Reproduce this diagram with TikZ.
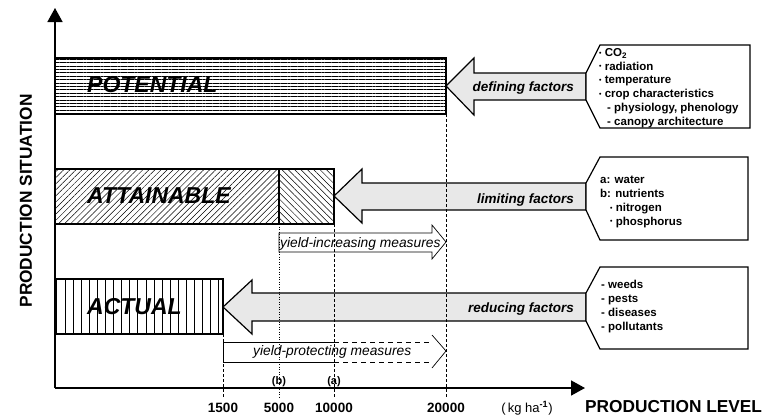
\documentclass[tikz,border=0pt]{standalone}
\usepackage{fontspec}
\setmainfont{Liberation Sans}
\usetikzlibrary{calc, patterns.meta, arrows.meta}

\newcommand{\bul}{\raisebox{0.2ex}{\scalebox{0.6}{\textbullet}}\ }

\tikzset{
	bar/.style = {draw, line width=1.2pt},
	factor/.style = {draw, line width=1.2pt, fill=gray!18},
	listbox/.style = {draw, line width=1.2pt, fill=white},
	measure/.style = {line width=0.7pt},
	level/.style = {line width=0.8pt, dash pattern=on 3pt off 2pt},
	biglabel/.style = {anchor=base west, inner sep=0, font=\fontsize{23}{23}\selectfont\bfseries\itshape},
	factortext/.style = {anchor=base east, inner sep=0, font=\fontsize{13.5}{13.5}\selectfont\bfseries\itshape},
	measuretext/.style = {anchor=base west, inner sep=0, font=\fontsize{13.8}{13.8}\selectfont\itshape},
	listtext/.style = {anchor=base west, inner sep=0, align=left, font=\fontsize{11.5}{13.7}\selectfont\bfseries},
	ticklabel/.style = {anchor=base, inner sep=0, font=\fontsize{13.5}{13.5}\selectfont\bfseries},
	axislabel/.style = {inner sep=0, font=\fontsize{17.3}{17.3}\selectfont\bfseries}
}

\begin{document}
\begin{tikzpicture}[x=1pt, y=-1pt]
	\useasboundingbox (0,0) rectangle (777,416);

	% production levels on the axis
	\coordinate (l1500) at (223,388);
	\coordinate (l5000) at (279,388);
	\coordinate (l10000) at (334,388);
	\coordinate (l20000) at (446,388);

	% bars
	\draw[bar, pattern={Lines[angle=0, distance=3.4pt, line width=0.5pt]}] (55,58) rectangle (l20000 |- 0,114);
	\draw[bar, pattern={Lines[angle=45, distance=4.3pt, line width=0.5pt]}] (55,169) rectangle (l5000 |- 0,224);
	\draw[bar, pattern={Lines[angle=-45, distance=4.5pt, line width=0.5pt]}] (l5000 |- 0,169) rectangle (l10000 |- 0,224);
	\draw[bar, pattern={Lines[angle=90, distance=8.1pt, line width=0.6pt]}] (55,279) rectangle (l1500 |- 0,334);

	% factor arrows
	\draw[factor] (446,86) -- (474,58) -- (474,73) -- (586,73) -- (586,100) -- (474,100) -- (474,115) -- cycle;
	\draw[factor] (334,196) -- (362,169) -- (362,183) -- (586,183) -- (586,210) -- (362,210) -- (362,223) -- cycle;
	\draw[factor] (223,307) -- (252,280) -- (252,293) -- (586,293) -- (586,321) -- (252,321) -- (252,334) -- cycle;

	% factor lists
	\draw[listbox] (600,45) -- (750,45) -- (750,128) -- (600,128) -- (586,100) -- (586,73) -- cycle;
	\draw[listbox] (600,157) -- (748,157) -- (748,240) -- (600,240) -- (586,210) -- (586,183) -- cycle;
	\draw[listbox] (600,267) -- (748,267) -- (748,349) -- (600,349) -- (586,321) -- (586,293) -- cycle;

	% measures
	\draw[measure] (279,233) -- (432,233) -- (432,225) -- (446,242) -- (432,259) -- (432,252) -- (279,252) -- cycle;
	\draw[measure] (334,342) -- (223,342) -- (223,362) -- (334,362);
	\draw[measure, dash pattern=on 5pt off 4pt] (334,342) -- (430,342) (334,362) -- (430,362);
	\draw[measure] (432,335) -- (446,351) -- (432,368);

	% level lines
	\draw[level] (l1500 |- 0,334) -- ($(l1500)+(0,10)$);
	\draw[line width=0.8pt, dash pattern=on 1pt off 1.5pt] (l5000 |- 0,224) -- ($(l5000)+(0,10)$);
	\draw[level] (l10000 |- 0,224) -- ($(l10000)+(0,10)$);
	\draw[level] (l20000 |- 0,114) -- ($(l20000)+(0,10)$);

	\begin{scope}[line width=1.6pt, -{Triangle[length=14pt, width=15pt]}]
	\draw (55,388) -- (55,8);
	\draw (55,388) -- (585,388);
	\end{scope}

	% labels
	\node[biglabel] (potential) at (87,92) {POTENTIAL};
	\node[biglabel] (attainable) at (87,203) {ATTAINABLE};
	\node[biglabel] (actual) at (87,314) {ACTUAL};

	\node[factortext] (defining) at (574,91.5) {defining factors};
	\node[factortext] (limiting) at (574,203) {limiting factors};
	\node[factortext] (reducing) at (574,312) {reducing factors};

	% lists: base is the last line
	\node[listtext] (deflist) at (599,125) {\bul CO\textsubscript{2}\\ \bul radiation\\ \bul temperature\\ \bul crop characteristics\\ \hspace{8pt}- physiology, phenology\\ \hspace{8pt}- canopy architecture};
	\node[listtext] (limlist) at (600,225) {a: water\\ b: nutrients\\ \hspace{10pt}\bul nitrogen\\ \hspace{10pt}\bul phosphorus};
	\node[listtext] (redlist) at (601,330) {- weeds\\ - pests\\ - diseases\\ - pollutants};

	\node[measuretext] (increasing) at (280,247) {yield-increasing measures};
	\node[measuretext] (protecting) at (253,355) {yield-protecting measures};

	\node[ticklabel, font=\fontsize{11}{11}\selectfont\bfseries] (b) at (279,384) {(b)};
	\node[ticklabel, font=\fontsize{11}{11}\selectfont\bfseries] (a) at (334,384) {(a)};
	\node[ticklabel] at (l1500 |- 0,412) {1500};
	\node[ticklabel] at (l5000 |- 0,412) {5000};
	\node[ticklabel] at (l10000 |- 0,412) {10000};
	\node[ticklabel] at (l20000 |- 0,412) {20000};
	\node[ticklabel, font=\fontsize{13}{13}\selectfont] (unit) at (527,412) {(\,kg ha\textsuperscript{\textbf{-1}})};

	\node[axislabel, anchor=base west] (xlabel) at (585,412) {PRODUCTION LEVEL};
	\node[axislabel, rotate=90] (ylabel) at (26,201) {PRODUCTION SITUATION};
\end{tikzpicture}
\end{document}
